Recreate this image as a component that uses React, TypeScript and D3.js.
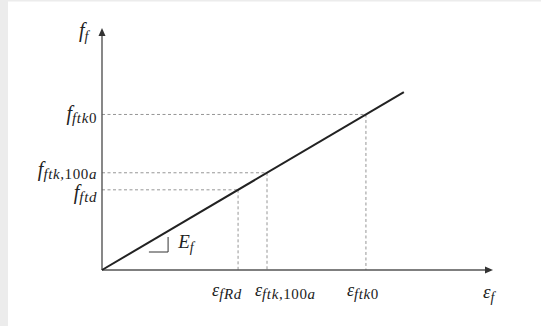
import React from "react";
import * as d3 from "d3";

// Strain axis markers (dimensionless units along the ε axis)
const strainNames = ["fRd", "ftk,100a", "ftk0"];
const strainValues = [3.48, 4.22, 6.75];
// Stress axis marker names, paired with the strains above
const stressNames = ["ftd", "ftk,100a", "ftk0"];
// Elastic modulus (slope of the linear law) and end of the drawn line
const modulus = [0.96];
const lineEndStrain = [7.72];

const W = 541;
const H = 326;

const FONT = "'Liberation Serif', 'DejaVu Serif', serif";

// label placement tweaks (px)
const stressLabelDy = [9, 3, 6];
const strainLabelDx = [-26, -12, -19];

function Sub({ text }: { text: string }) {
  // italic letters, upright digits inside subscripts
  const parts = text.match(/[0-9]+|[^0-9]+/g) || [];
  return (
    <>
      {parts.map((p, i) => (
        <tspan key={i} fontStyle={/^[0-9]+$/.test(p) ? "normal" : "italic"}>
          {p}
        </tspan>
      ))}
    </>
  );
}

export default function App() {
  const Ef = modulus[0];
  const x = d3.scaleLinear().domain([0, 10]).range([102, 493]);
  const y = d3.scaleLinear().domain([0, 10]).range([270, 30]);

  const linePts: [number, number][] = [
    [0, 0],
    [lineEndStrain[0], Ef * lineEndStrain[0]],
  ];
  const line = d3
    .line<[number, number]>()
    .x((d) => x(d[0]))
    .y((d) => y(d[1]));

  const x0 = x(0);
  const y0 = y(0);

  return (
    <svg
      width={W}
      height={H}
      style={{ position: "absolute", left: 0, top: 0 }}
      fontFamily={FONT}
    >
      <rect x={0} y={0} width={W} height={H} fill="#ffffff" />
      <rect x={0} y={0} width={8} height={H} fill="#ececec" />
      <rect x={0} y={0} width={W} height={1.5} fill="#ececec" />

      {/* dashed guides */}
      {strainValues.map((s, i) => {
        const px = x(s);
        const py = y(Ef * s);
        return (
          <g key={i} stroke="#8a8a8a" strokeWidth={0.9} strokeDasharray="3,2.5">
            <line x1={px} y1={py} x2={px} y2={y0} />
            <line x1={x0} y1={py} x2={px} y2={py} />
          </g>
        );
      })}

      {/* axes */}
      <line x1={x0} y1={y0} x2={x(10) - 5} y2={y0} stroke="#555" strokeWidth={1.6} />
      <path
        d={`M${x(10)},${y0} L${x(10) - 8},${y0 - 3.5} L${x(10) - 8},${y0 + 3.5} Z`}
        fill="#333"
      />
      <line x1={x0} y1={y0} x2={x0} y2={y(10) + 5} stroke="#555" strokeWidth={1.4} />
      <path
        d={`M${x0},${y(10) - 2} L${x0 - 3.5},${y(10) + 6} L${x0 + 3.5},${y(10) + 6} Z`}
        fill="#333"
      />

      {/* linear law */}
      <path d={line(linePts) || ""} fill="none" stroke="#222" strokeWidth={2} />

      {/* slope marker */}
      <path
        d={`M${x(1.2)},${y(0.75)} L${x(1.69)},${y(0.75)} L${x(1.69)},${y(1.375)}`}
        fill="none"
        stroke="#333"
        strokeWidth={1}
      />
      <text x={x(1.95)} y={y(0.92)} fontSize={19} fill="#222">
        <tspan fontStyle="italic">E</tspan>
        <tspan fontSize={14} dy={4} fontStyle="italic">f</tspan>
      </text>

      {/* stress labels */}
      {strainValues.map((s, i) => (
        <text
          key={i}
          x={97}
          y={y(Ef * s) + stressLabelDy[i]}
          textAnchor="end"
          fontSize={20}
          fill="#222"
        >
          <tspan fontStyle="italic">f</tspan>
          <tspan fontSize={15} dy={3} letterSpacing={0.6}>
            <Sub text={stressNames[i]} />
          </tspan>
        </text>
      ))}

      {/* strain labels */}
      {strainValues.map((s, i) => (
        <text
          key={i}
          x={x(s) + strainLabelDx[i]}
          y={296}
          fontSize={18}
          fill="#222"
        >
          <tspan fontStyle="italic">ε</tspan>
          <tspan fontSize={15} dy={3} letterSpacing={0.6}>
            <Sub text={strainNames[i]} />
          </tspan>
        </text>
      ))}

      {/* axis titles */}
      <text x={483} y={298} fontSize={19} fill="#222">
        <tspan fontStyle="italic">ε</tspan>
        <tspan fontSize={14} dy={4} fontStyle="italic">f</tspan>
      </text>
      <text x={79} y={37} fontSize={20} fill="#222">
        <tspan fontStyle="italic">f</tspan>
        <tspan fontSize={14} dy={4} fontStyle="italic">f</tspan>
      </text>
    </svg>
  );
}
